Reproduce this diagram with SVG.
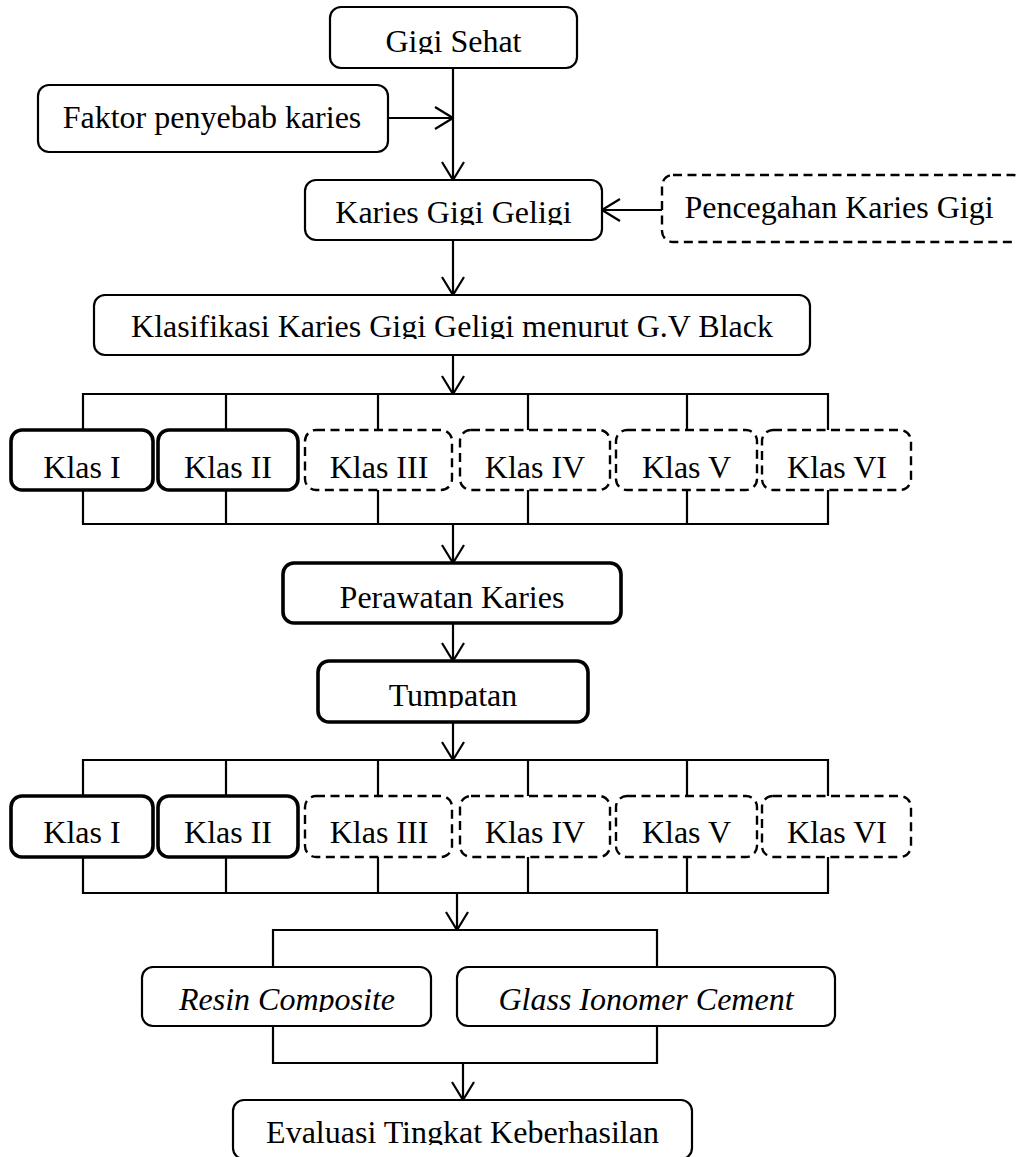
<svg xmlns="http://www.w3.org/2000/svg" width="1016" height="1157" viewBox="0 0 1016 1157">
<style>
.bx{fill:#fff;stroke:#000;stroke-width:2.2}
.tk{fill:#fff;stroke:#000;stroke-width:3.6}
.ds{fill:#fff;stroke:#000;stroke-width:2.4;stroke-dasharray:9 5.5}
.t{font-family:"Liberation Serif","Times New Roman",serif;font-size:32px;fill:#000;text-anchor:middle}
.it{font-style:italic}
.cn{fill:none;stroke:#000;stroke-width:2.2}
</style>
<defs>
<marker id="ah" viewBox="0 0 20 24" refX="19" refY="12" markerWidth="20" markerHeight="24" markerUnits="userSpaceOnUse" orient="auto">
<path d="M1,1 L19,12 L1,23" fill="none" stroke="#000" stroke-width="2.2"/>
</marker>
<clipPath id="c1"><rect x="330" y="7" width="247" height="47"/></clipPath>
<clipPath id="c2"><rect x="305" y="180" width="297" height="45"/></clipPath>
<clipPath id="c3"><rect x="94" y="295" width="716" height="44"/></clipPath>
<clipPath id="c4"><rect x="318" y="661" width="270" height="47"/></clipPath>
<clipPath id="c5"><rect x="142" y="967" width="289" height="45"/></clipPath>
<clipPath id="c6"><rect x="233" y="1100" width="459" height="45"/></clipPath>
</defs>

<g id="connectors">
<line class="cn" x1="453" y1="68" x2="453" y2="180" marker-end="url(#ah)"/>
<line class="cn" x1="388" y1="118" x2="453" y2="118" marker-end="url(#ah)"/>
<line class="cn" x1="662" y1="210" x2="602" y2="210" marker-end="url(#ah)"/>
<line class="cn" x1="453" y1="240" x2="453" y2="295" marker-end="url(#ah)"/>
<line class="cn" x1="453" y1="355" x2="453" y2="394" marker-end="url(#ah)"/>
<path class="cn" d="M83,430 V394 H828 V430 M226,394 V430 M378,394 V430 M528,394 V430 M687,394 V430"/>
<path class="cn" d="M83,490 V524 H828 V490 M226,524 V490 M378,524 V490 M528,524 V490 M687,524 V490"/>
<line class="cn" x1="453" y1="524" x2="453" y2="563" marker-end="url(#ah)"/>
<line class="cn" x1="453" y1="623" x2="453" y2="661" marker-end="url(#ah)"/>
<line class="cn" x1="453" y1="722" x2="453" y2="760" marker-end="url(#ah)"/>
<path class="cn" d="M83,796 V760 H828 V796 M226,760 V796 M378,760 V796 M528,760 V796 M687,760 V796"/>
<path class="cn" d="M83,857 V893 H828 V857 M226,893 V857 M378,893 V857 M528,893 V857 M687,893 V857"/>
<line class="cn" x1="457" y1="893" x2="457" y2="930" marker-end="url(#ah)"/>
<path class="cn" d="M273,967 V930 H657 V967"/>
<path class="cn" d="M273,1026 V1063 H657 V1026"/>
<line class="cn" x1="463" y1="1063" x2="463" y2="1100" marker-end="url(#ah)"/>
</g>

<g id="gigi-sehat">
<rect class="bx" x="330" y="7" width="247" height="61" rx="11"/>
<text class="t" x="453.5" y="52" clip-path="url(#c1)">Gigi Sehat</text>
</g>
<g id="faktor">
<rect class="bx" x="38" y="85" width="350" height="67" rx="11"/>
<text class="t" x="212" y="128">Faktor penyebab karies</text>
</g>
<g id="karies">
<rect class="bx" x="305" y="180" width="297" height="60" rx="11"/>
<text class="t" x="453.5" y="223" clip-path="url(#c2)">Karies Gigi Geligi</text>
</g>
<g id="pencegahan">
<rect class="ds" x="662" y="175" width="362" height="67" rx="11"/>
<text class="t" x="839" y="218">Pencegahan Karies Gigi</text>
</g>
<g id="klasifikasi">
<rect class="bx" x="94" y="295" width="716" height="60" rx="11"/>
<text class="t" x="452" y="337" clip-path="url(#c3)">Klasifikasi Karies Gigi Geligi menurut G.V Black</text>
</g>

<g id="k1-1"><rect class="tk" x="11" y="430" width="142" height="60" rx="11"/><text class="t" x="82" y="478">Klas I</text></g>
<g id="k1-2"><rect class="tk" x="158" y="430" width="140" height="60" rx="11"/><text class="t" x="228" y="478">Klas II</text></g>
<g id="k1-3"><rect class="ds" x="305" y="430" width="147" height="60" rx="11"/><text class="t" x="379" y="478">Klas III</text></g>
<g id="k1-4"><rect class="ds" x="460" y="430" width="150" height="60" rx="11"/><text class="t" x="535" y="478">Klas IV</text></g>
<g id="k1-5"><rect class="ds" x="616" y="430" width="141" height="60" rx="11"/><text class="t" x="686.5" y="478">Klas V</text></g>
<g id="k1-6"><rect class="ds" x="762" y="430" width="149" height="60" rx="11"/><text class="t" x="837" y="478">Klas VI</text></g>

<g id="perawatan">
<rect class="tk" x="283" y="563" width="338" height="60" rx="11"/>
<text class="t" x="452" y="608">Perawatan Karies</text>
</g>
<g id="tumpatan">
<rect class="tk" x="318" y="661" width="270" height="61" rx="11"/>
<text class="t" x="453" y="706" clip-path="url(#c4)">Tumpatan</text>
</g>

<g id="k2-1"><rect class="tk" x="11" y="796" width="142" height="61" rx="11"/><text class="t" x="82" y="843">Klas I</text></g>
<g id="k2-2"><rect class="tk" x="158" y="796" width="140" height="61" rx="11"/><text class="t" x="228" y="843">Klas II</text></g>
<g id="k2-3"><rect class="ds" x="305" y="796" width="147" height="61" rx="11"/><text class="t" x="379" y="843">Klas III</text></g>
<g id="k2-4"><rect class="ds" x="460" y="796" width="150" height="61" rx="11"/><text class="t" x="535" y="843">Klas IV</text></g>
<g id="k2-5"><rect class="ds" x="616" y="796" width="141" height="61" rx="11"/><text class="t" x="686.5" y="843">Klas V</text></g>
<g id="k2-6"><rect class="ds" x="762" y="796" width="149" height="61" rx="11"/><text class="t" x="837" y="843">Klas VI</text></g>

<g id="resin">
<rect class="bx" x="142" y="967" width="289" height="59" rx="11"/>
<text class="t it" x="287" y="1010" clip-path="url(#c5)">Resin Composite</text>
</g>
<g id="glass">
<rect class="bx" x="457" y="967" width="378" height="59" rx="11"/>
<text class="t it" x="646" y="1010">Glass Ionomer Cement</text>
</g>
<g id="evaluasi">
<rect class="bx" x="233" y="1100" width="459" height="59" rx="11"/>
<text class="t" x="462.5" y="1143" clip-path="url(#c6)">Evaluasi Tingkat Keberhasilan</text>
</g>
</svg>
